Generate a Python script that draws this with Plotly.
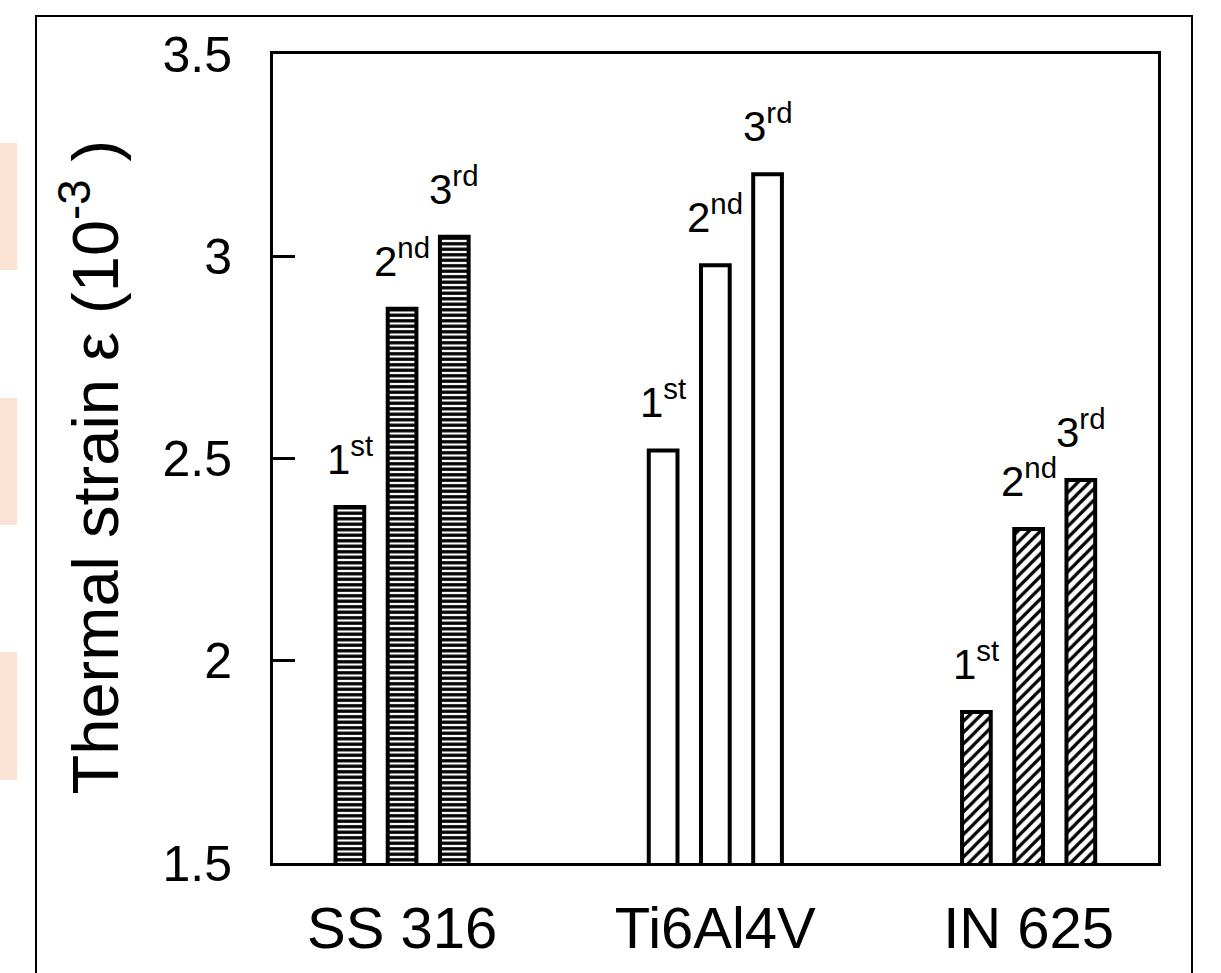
import plotly.graph_objects as go

# ---- data ----
materials = ["SS 316", "Ti6Al4V", "IN 625"]
series_names = ["1st", "2nd", "3rd"]
series_labels = ["1<sup>st</sup>", "2<sup>nd</sup>", "3<sup>rd</sup>"]
strain_1st = [2.38, 2.52, 1.873]
strain_2nd = [2.87, 2.978, 2.326]
strain_3rd = [3.048, 3.203, 2.447]
ytick_vals = [1.5, 2, 2.5, 3, 3.5]
ytick_text = ["1.5", "2", "2.5", "3", "3.5"]

series_values = [strain_1st, strain_2nd, strain_3rd]

FONT = "Arial, Liberation Sans, sans-serif"
pattern_shapes = ["-", "", "/"]
pattern_sizes = [5.5, 8, 8]
pattern_solid = [0.6, 0.3, 0.4]

fig = go.Figure()
for name, vals in zip(series_names, series_values):
    fig.add_trace(go.Bar(
        x=materials, y=vals, name=name,
        marker=dict(
            color="white",
            line=dict(color="black", width=4),
            pattern=dict(shape=pattern_shapes, size=pattern_sizes,
                         solidity=pattern_solid, fgcolor="black",
                         bgcolor="white", fillmode="replace"),
        ),
        showlegend=False,
    ))

# bar labels (1st / 2nd / 3rd) above each bar
slot_px = 52.3
ann = []
for i, (lab, vals) in enumerate(zip(series_labels, series_values)):
    for m, v in zip(materials, vals):
        ann.append(dict(x=m, y=v, xref="x", yref="y", text=lab, showarrow=False,
                        xanchor="center", yanchor="bottom",
                        xshift=(i - 1) * slot_px, yshift=22,
                        font=dict(family=FONT, size=42, color="black")))

# y-axis title
ann.append(dict(xref="paper", yref="paper", x=-0.207, y=0.49,
                text="Thermal strain ε (10<sup>-3</sup> )", textangle=-90,
                showarrow=False, xanchor="center", yanchor="middle",
                font=dict(family=FONT, size=65, color="black")))

# decorative outer frame and peach side marks
W, H = 1221, 973
L, R, T, B = 273, 63, 54, 110
pw, ph = W - L - R, H - T - B

def px_x(x):
    return (x - L) / pw

def px_y(y):
    return (H - B - y) / ph

shapes = [dict(type="rect", xref="paper", yref="paper",
               x0=px_x(36), x1=px_x(1192), y0=px_y(16), y1=px_y(1000),
               line=dict(color="black", width=2), fillcolor="rgba(0,0,0,0)", layer="below")]
for y0, y1 in [(143, 270), (398, 525), (652, 780)]:
    shapes.append(dict(type="rect", xref="paper", yref="paper",
                       x0=px_x(-2), x1=px_x(17), y0=px_y(y1), y1=px_y(y0),
                       line=dict(width=0), fillcolor="#FAE3D4", layer="below"))

fig.update_layout(
    width=W, height=H,
    margin=dict(l=L, r=R, t=T, b=B),
    paper_bgcolor="white", plot_bgcolor="white",
    barmode="group", bargap=0.5, bargroupgap=0.45,
    annotations=ann, shapes=shapes,
    font=dict(family=FONT, color="black"),
    xaxis=dict(type="category", range=[-0.412, 2.413], showgrid=False,
               showline=True, linecolor="black", linewidth=3, mirror=True,
               ticks="", tickfont=dict(size=58, family=FONT, color="black"),
               ticklabelstandoff=12, zeroline=False),
    yaxis=dict(range=[1.5, 3.5], tickvals=ytick_vals, ticktext=ytick_text,
               showgrid=False, zeroline=False,
               showline=True, linecolor="black", linewidth=3, mirror=True,
               ticks="inside", ticklen=22, tickwidth=3, tickcolor="black",
               tickfont=dict(size=50, family=FONT, color="black"),
               ticklabelstandoff=28),
)

fig.write_html("out.html", config={"displayModeBar": False},
               post_script="document.body.style.margin='0';document.body.style.overflow='hidden';")
